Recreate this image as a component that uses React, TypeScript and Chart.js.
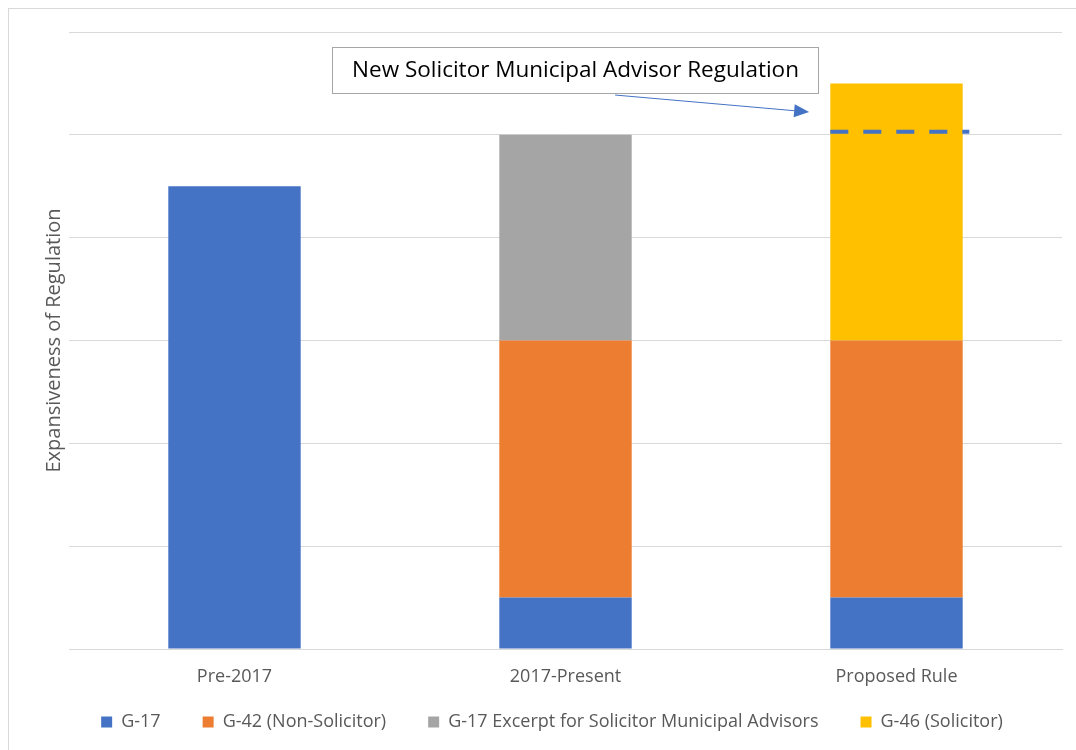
import React, { useEffect, useRef } from "react";
import { Chart, registerables } from "chart.js";

Chart.register(...registerables);

// ---- data ----
const CATEGORIES = ["Pre-2017", "2017-Present", "Proposed Rule"];
const SERIES_NAMES = [
  "G-17",
  "G-42 (Non-Solicitor)",
  "G-17 Excerpt for Solicitor Municipal Advisors",
  "G-46 (Solicitor)",
];
const G17_VALUES = [4.5, 0.5, 0.5];
const G42_VALUES = [null, 2.5, 2.5];
const G17_EXCERPT_VALUES = [null, 2.0, null];
const G46_VALUES = [null, null, 2.5];
const SERIES_COLORS = ["#4472C4", "#ED7D31", "#A5A5A5", "#FFC000"];

const Y_MAX = 6;
const Y_STEP = 1;
const Y_TITLE = "Expansiveness of Regulation";

// annotation (data coordinates: category index, value)
const NOTE_TEXT = "New Solicitor Municipal Advisor Regulation";
const NOTE_BOX_CAT = [0.295, 1.763];
const NOTE_BOX_VAL = [5.854, 5.407];
const ARROW_FROM = [1.15, 5.387];
const ARROW_TO = [1.736, 5.222];
const THRESHOLD_VALUE = 5.03;
const THRESHOLD_CAT = [1.8, 2.22];

const FONT = "'Open Sans', 'Noto Sans', sans-serif";
const TEXT_GRAY = "#595959";
const GRID = "#D9D9D9";

const annotationPlugin = {
  id: "solicitorAnnotation",
  afterDatasetsDraw(chart: any) {
    const { ctx } = chart;
    const xs = chart.scales.x;
    const ys = chart.scales.y;
    const x0 = xs.getPixelForValue(0);
    const x1 = xs.getPixelForValue(1);
    const cx = (c: number) => x0 + c * (x1 - x0);
    const cy = (v: number) => ys.getPixelForValue(v);

    ctx.save();
    // dashed threshold line
    ctx.strokeStyle = "#4472C4";
    ctx.lineWidth = 4;
    ctx.setLineDash([18, 15]);
    ctx.beginPath();
    ctx.moveTo(cx(THRESHOLD_CAT[0]), cy(THRESHOLD_VALUE));
    ctx.lineTo(cx(THRESHOLD_CAT[1]), cy(THRESHOLD_VALUE));
    ctx.stroke();
    ctx.setLineDash([]);

    // note box
    const bl = Math.round(cx(NOTE_BOX_CAT[0])) + 0.5;
    const br = Math.round(cx(NOTE_BOX_CAT[1])) + 0.5;
    const bt = Math.round(cy(NOTE_BOX_VAL[0])) + 0.5;
    const bb = Math.round(cy(NOTE_BOX_VAL[1])) + 0.5;
    ctx.fillStyle = "#FFFFFF";
    ctx.fillRect(bl, bt, br - bl, bb - bt);
    ctx.strokeStyle = "#A6A6A6";
    ctx.lineWidth = 1;
    ctx.strokeRect(bl, bt, br - bl, bb - bt);
    ctx.fillStyle = "#000000";
    ctx.font = `22.5px ${FONT}`;
    ctx.textAlign = "center";
    ctx.textBaseline = "middle";
    ctx.fillText(NOTE_TEXT, (bl + br) / 2, (bt + bb) / 2);

    // arrow
    const ax = cx(ARROW_FROM[0]);
    const ay = cy(ARROW_FROM[1]);
    const bx = cx(ARROW_TO[0]);
    const by = cy(ARROW_TO[1]);
    const ang = Math.atan2(by - ay, bx - ax);
    const headLen = 15;
    const headW = 6.5;
    const hx = bx - headLen * Math.cos(ang);
    const hy = by - headLen * Math.sin(ang);
    ctx.strokeStyle = "#4472C4";
    ctx.fillStyle = "#4472C4";
    ctx.lineWidth = 1;
    ctx.beginPath();
    ctx.moveTo(ax, ay);
    ctx.lineTo(hx, hy);
    ctx.stroke();
    ctx.beginPath();
    ctx.moveTo(bx, by);
    ctx.lineTo(hx + headW * Math.sin(ang), hy - headW * Math.cos(ang));
    ctx.lineTo(hx - headW * Math.sin(ang), hy + headW * Math.cos(ang));
    ctx.closePath();
    ctx.fill();
    ctx.restore();
  },
};

export default function App() {
  const canvasRef = useRef<HTMLCanvasElement | null>(null);

  useEffect(() => {
    if (!canvasRef.current) return;
    const seriesValues = [G17_VALUES, G42_VALUES, G17_EXCERPT_VALUES, G46_VALUES];
    const chart = new Chart(canvasRef.current, {
      type: "bar",
      data: {
        labels: CATEGORIES,
        datasets: SERIES_NAMES.map((name, i) => ({
          label: name,
          data: seriesValues[i] as any,
          backgroundColor: SERIES_COLORS[i],
          borderWidth: 0,
          barPercentage: 0.4,
          categoryPercentage: 1,
        })),
      },
      options: {
        responsive: false,
        animation: false,
        layout: { padding: { left: 33, top: 23, right: 14, bottom: 9 } },
        plugins: {
          tooltip: { enabled: false },
          legend: {
            position: "bottom",
            labels: {
              boxWidth: 11,
              boxHeight: 11,
              padding: 42,
              color: TEXT_GRAY,
              font: { family: FONT, size: 18 },
            },
          },
        },
        scales: {
          x: {
            stacked: true,
            grid: { display: false, drawTicks: false },
            border: { display: true, color: GRID, width: 1 },
            ticks: {
              color: TEXT_GRAY,
              font: { family: FONT, size: 18 },
              padding: 17,
            },
            afterFit: (scale: any) => {
              // let the labels sit in the legend's empty top padding
              scale.height = 22;
              scale._computeLabelArea = () => undefined;
            },
          },
          y: {
            stacked: true,
            min: 0,
            max: Y_MAX,
            ticks: { display: false, stepSize: Y_STEP },
            grid: { color: GRID, lineWidth: 1, drawTicks: false },
            border: { display: false },
            title: {
              display: true,
              text: Y_TITLE,
              color: TEXT_GRAY,
              font: { family: FONT, size: 20 },
              padding: { top: 0, bottom: 3 },
            },
          },
        },
      },
      plugins: [annotationPlugin],
    });
    return () => chart.destroy();
  }, []);

  return (
    <div
      style={{
        position: "fixed",
        left: 8,
        top: 8,
        width: 1068,
        height: 742,
        boxSizing: "border-box",
        borderTop: "1px solid #D9D9D9",
        borderLeft: "1px solid #D9D9D9",
        background: "#FFFFFF",
      }}
    >
      <canvas ref={canvasRef} width={1067} height={741} style={{ display: "block" }} />
    </div>
  );
}
